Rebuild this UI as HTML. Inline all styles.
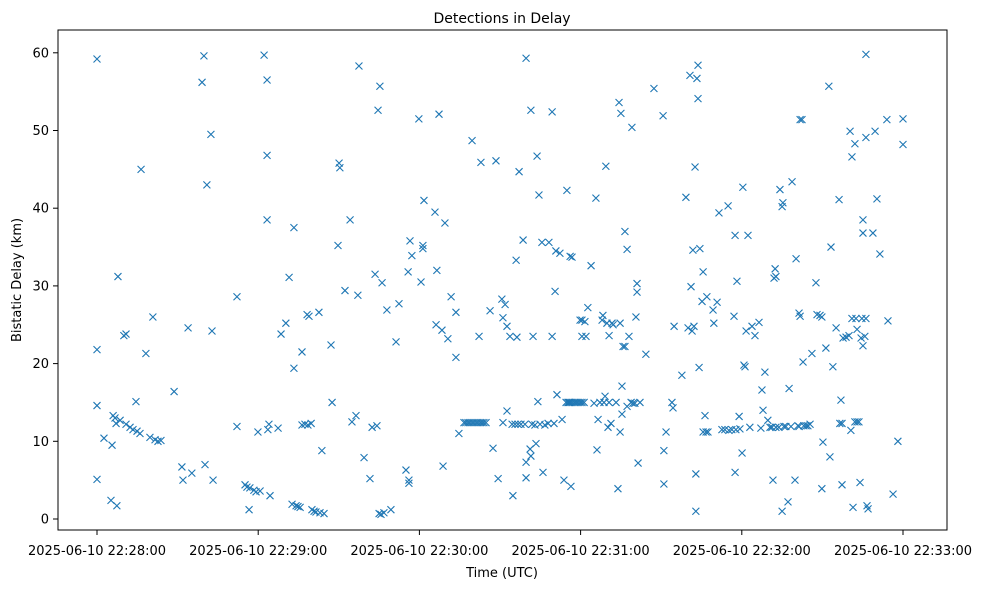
<!DOCTYPE html>
<html><head><meta charset="utf-8"><style>
html,body{margin:0;padding:0;background:#fff;}
svg text{font-family:"DejaVu Sans","Liberation Sans",sans-serif;fill:#000;}
</style></head><body>
<svg id="chart" width="984" height="590" viewBox="0 0 984 590" xmlns="http://www.w3.org/2000/svg">
<rect x="0" y="0" width="984" height="590" fill="#fff"/>
<text x="502" y="23" font-size="14" text-anchor="middle">Detections in Delay</text>
<text x="502" y="577" font-size="13" text-anchor="middle">Time (UTC)</text>
<text transform="translate(21,280) rotate(-90)" font-size="13" text-anchor="middle">Bistatic Delay (km)</text>
<g id="ticks"></g>
<g id="marks"></g>
<rect x="58" y="30" width="889" height="500" fill="none" stroke="#000" stroke-width="1"/>
</svg>
<script>
const xTickSeconds = [0, 60, 120, 180, 240, 300];
const xTickLabels = ["2025-06-10 22:28:00","2025-06-10 22:29:00","2025-06-10 22:30:00","2025-06-10 22:31:00","2025-06-10 22:32:00","2025-06-10 22:33:00"];
const yTickValues = [0, 10, 20, 30, 40, 50, 60];
const times = [
0,0,0,0,2.6,5.2,5.6,6.0,6.7,7.1,7.4,7.8,8.6,10.0,10.8,10.8,12.3,13.4,14.5,14.9,16.0,16.4,18.2,19.7,20.8,21.6,22.7,23.8,28.7,31.6,32.0,33.9,35.3,39.1,39.8,40.2,40.9,42.4,42.8,43.2,
52.1,52.1,55.1,55.8,56.6,56.9,58.4,59.2,59.9,60.7,62.2,63.3,63.3,63.3,63.6,64.0,64.4,67.4,68.5,70.3,71.5,72.6,73.3,73.3,74.1,74.8,75.6,76.3,76.3,77.4,78.2,78.5,78.9,79.7,80.0,80.8,81.5,82.6,83.0,83.7,84.5,87.1,87.5,89.7,90.1,90.4,92.3,94.2,94.9,96.4,97.1,97.5,99.4,101.6,102.4,103.5,104.2,104.6,105.0,105.3,105.7,106.1,106.8,107.9,109.4,111.3,112.4,115.0,115.8,116.1,116.1,116.5,117.2,119.8,120.6,121.3,121.3,121.7,125.8,126.2,126.5,127.3,128.4,128.8,129.5,130.6,131.8,133.6,133.6,134.7,
136.6,137.3,138.1,138.8,139.6,140.3,141.1,141.8,142.6,143.3,144.0,144.8,
139.6,142.2,142.9,146.3,147.4,148.5,149.3,150.7,151.1,151.1,151.9,152.6,152.6,153.7,154.5,154.8,155.6,156.0,156.3,156.7,157.1,157.8,158.6,159.3,159.7,159.7,159.7,161.2,161.5,161.5,161.9,162.3,163.0,163.4,163.8,164.1,164.5,164.9,165.6,166.0,166.7,167.9,168.2,169.4,169.4,170.1,170.5,170.8,171.2,172.3,173.1,173.8,174.9,175.7,176.1,176.4,176.8,
174.6,175.3,176.1,176.8,177.6,178.3,179.0,179.8,180.5,181.3,
179.8,180.5,180.5,181.6,182.0,182.7,183.9,185.0,185.7,186.1,186.5,187.2,188.0,188.3,188.7,189.1,189.4,189.8,190.2,190.6,190.6,191.3,191.7,192.1,193.2,193.9,194.3,194.7,194.7,195.0,195.4,195.4,195.8,196.5,196.5,197.3,197.3,198.0,198.8,199.1,199.5,200.2,200.6,201.0,201.0,201.4,202.1,204.3,207.3,210.7,211.0,211.0,211.8,214.0,214.4,214.8,217.7,219.2,220.0,220.7,221.1,221.5,221.8,222.2,222.6,222.9,222.9,223.3,223.7,223.7,224.1,224.4,225.2,225.6,225.6,226.3,226.7,227.0,227.4,229.3,229.6,230.8,231.5,232.6,233.7,234.9,235.2,236.3,237.1,237.5,237.5,237.8,238.2,239.0,239.3,240.1,240.4,240.8,241.2,241.6,242.3,243.0,243.8,244.9,246.4,247.1,247.5,247.9,248.6,249.7,250.5,251.2,251.6,252.0,252.4,252.7,252.7,253.8,254.2,255.0,255.0,255.3,255.7,256.4,257.2,257.6,258.3,258.7,259.8,260.2,260.9,261.3,261.3,261.7,261.7,262.4,262.8,263.1,263.9,264.6,265.4,266.1,267.6,268.0,269.1,269.8,269.8,270.2,271.3,272.4,272.8,273.2,273.9,275.1,276.2,276.5,276.9,277.3,277.3,277.7,278.8,279.9,280.3,280.6,281.0,281.0,281.4,282.1,282.1,282.5,282.9,282.9,283.6,284.0,284.4,284.7,285.1,285.1,285.1,285.8,286.2,286.2,286.2,286.6,287.0,288.8,289.6,290.3,291.4,294.0,294.4,296.3,298.1,300.0,300.0
];
const delays = [
59.2,21.8,14.6,5.1,10.4,2.4,9.5,13.3,13.0,12.3,1.7,31.2,12.7,23.6,23.8,12.2,11.8,11.5,15.1,11.3,11.0,45.0,21.3,10.5,26.0,10.2,10.0,10.1,16.4,6.7,5.0,24.6,5.9,56.2,59.6,7.0,43.0,49.5,24.2,5.0,
28.6,11.9,4.4,4.1,1.2,4.0,3.7,3.5,11.2,3.6,59.7,56.5,46.8,38.5,11.5,12.2,3.0,11.7,23.8,25.2,31.1,1.9,19.4,37.5,1.7,1.6,1.5,21.5,12.1,12.2,26.3,12.1,26.1,12.3,1.2,1.0,0.9,26.6,0.8,8.8,0.7,22.4,15.0,35.2,45.8,45.2,29.4,38.5,12.5,13.3,28.8,58.3,7.9,5.2,11.8,31.5,12.0,52.6,0.7,55.7,0.6,30.4,0.8,26.9,1.2,22.8,27.7,6.3,31.8,5.0,4.6,35.8,33.9,51.5,30.5,35.2,34.8,41.0,39.5,25.0,32.0,52.1,24.3,6.8,38.1,23.2,28.6,26.6,20.8,11.0,
12.4,12.4,12.4,12.4,12.4,12.4,12.4,12.4,12.4,12.4,12.4,12.4,
48.7,23.5,45.9,26.8,9.1,46.1,5.2,28.3,12.4,25.9,27.6,13.9,24.8,23.5,12.2,3.0,12.2,33.3,23.4,12.2,44.7,12.2,35.9,12.2,5.3,7.3,59.3,9.0,8.1,52.6,12.2,23.5,12.1,9.7,46.7,15.1,41.7,12.2,35.6,6.0,12.1,12.3,35.6,23.5,52.4,12.3,29.3,34.5,16.0,34.2,12.8,5.0,42.3,15.0,33.8,4.2,33.7,
15.0,15.0,15.0,15.0,15.0,15.0,15.0,15.0,15.0,15.0,
25.6,25.6,23.5,25.4,23.5,27.2,32.6,14.9,41.3,8.9,12.8,15.0,25.6,26.2,15.0,15.8,45.4,25.2,11.8,23.6,15.0,12.3,25.2,25.0,15.0,3.9,53.6,25.2,11.2,52.2,13.5,17.1,22.2,22.2,37.0,34.7,14.5,23.5,15.0,50.4,14.9,14.9,26.0,30.3,29.2,7.2,15.0,21.2,55.4,51.9,8.8,4.5,11.2,15.0,14.3,24.8,18.5,41.4,24.6,57.1,29.9,24.2,34.6,24.8,45.3,5.8,1.0,56.7,58.4,54.1,19.5,34.8,28.0,31.8,11.2,13.3,11.2,28.6,11.2,26.9,25.2,27.9,39.4,11.5,11.5,40.3,11.4,11.5,26.1,36.5,6.0,11.5,30.6,13.2,11.6,8.5,42.7,19.8,19.6,24.2,36.5,11.8,24.8,23.6,25.3,11.7,16.6,14.0,18.9,12.7,11.8,11.8,5.0,31.0,32.2,31.2,11.8,11.8,42.4,1.0,40.2,40.7,11.9,11.9,2.2,16.8,11.9,43.4,5.0,33.5,12.0,26.5,11.9,26.1,51.4,51.4,20.2,12.0,12.0,12.0,12.2,21.3,30.4,26.3,26.2,3.9,26.0,9.9,22.0,55.7,8.0,35.0,19.6,24.6,41.1,12.3,15.3,12.3,4.4,23.3,23.4,23.6,49.9,11.4,46.6,25.8,1.5,12.5,48.3,25.8,12.5,24.4,12.5,4.7,23.3,25.8,22.3,36.8,38.5,23.5,59.8,49.1,25.8,1.7,1.3,36.8,49.9,41.2,34.1,51.4,25.5,3.2,10.0,51.5,48.2
];
const NS = "http://www.w3.org/2000/svg";
const X0 = 97, PX_PER_SEC = 161.2/60, Y0 = 519, PX_PER_KM = 7.77;
function xScale(s){ return X0 + s*PX_PER_SEC; }
function yScale(v){ return Y0 - v*PX_PER_KM; }
const ticks = document.getElementById('ticks');
xTickSeconds.forEach((s,i)=>{
  const x = xScale(s);
  const l = document.createElementNS(NS,'line');
  l.setAttribute('x1',x);l.setAttribute('x2',x);l.setAttribute('y1',530);l.setAttribute('y2',535);l.setAttribute('stroke','#000');
  
  
  ticks.appendChild(l);
  const t = document.createElementNS(NS,'text');
  t.setAttribute('x',x);t.setAttribute('y',555);t.setAttribute('font-size','13');t.setAttribute('text-anchor','middle');
  t.textContent = xTickLabels[i];
  
  
  ticks.appendChild(t);
});
yTickValues.forEach(v=>{
  const y = yScale(v);
  const l = document.createElementNS(NS,'line');
  l.setAttribute('x1',53);l.setAttribute('x2',58);l.setAttribute('y1',y);l.setAttribute('y2',y);l.setAttribute('stroke','#000');
  
  
  ticks.appendChild(l);
  const t = document.createElementNS(NS,'text');
  t.setAttribute('x',49);t.setAttribute('y',y+4.5);t.setAttribute('font-size','13');t.setAttribute('text-anchor','end');
  t.textContent = String(v);
  
  
  ticks.appendChild(t);
});
const marks = document.getElementById('marks');
const n = Math.min(times.length, delays.length);
for (let i=0;i<n;i++){
  const cx = xScale(times[i]), cy = yScale(delays[i]), h = 3.5;
  const p = document.createElementNS(NS,'path');
  p.setAttribute('d',`M${cx-h},${cy-h}L${cx+h},${cy+h}M${cx-h},${cy+h}L${cx+h},${cy-h}`);
  p.setAttribute('stroke','#1f77b4');p.setAttribute('stroke-width','1.1');p.setAttribute('fill','none');
  
  
  marks.appendChild(p);
}
</script>
</body></html>
